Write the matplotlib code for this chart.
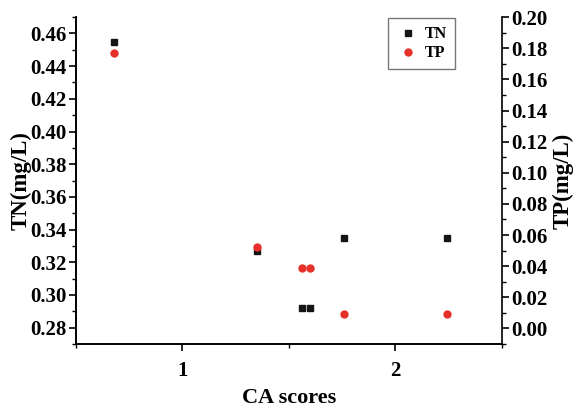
import matplotlib.pyplot as plt
from matplotlib.ticker import MultipleLocator

plt.rcParams['font.family'] = ['Liberation Serif', 'DejaVu Serif']
plt.rcParams['font.weight'] = 'bold'

# CA scores and nutrient concentrations
ca_scores = [0.68, 1.35, 1.56, 1.60, 1.76, 2.24]
tn = [0.455, 0.327, 0.292, 0.292, 0.335, 0.335]
tp = [0.177, 0.052, 0.039, 0.039, 0.009, 0.009]

fig = plt.figure(figsize=(5.77, 4.08), dpi=100)
ax = fig.add_axes([0.1317, 0.157, 0.7383, 0.801])
ax2 = ax.twinx()

h1, = ax.plot(ca_scores, tn, 's', color='#151515', markersize=4.5, label='TN')
h2, = ax2.plot(ca_scores, tp, 'o', color='#e8302a', markersize=5, label='TP')

ax.set_xlim(0.5, 2.5)
ax.set_ylim(0.27, 0.47)
ax2.set_ylim(-0.01, 0.20)

ax.xaxis.set_major_locator(MultipleLocator(1))
ax.xaxis.set_minor_locator(MultipleLocator(0.5))
ax.yaxis.set_minor_locator(MultipleLocator(0.01))
ax2.yaxis.set_minor_locator(MultipleLocator(0.01))
ax.set_yticks([0.28, 0.30, 0.32, 0.34, 0.36, 0.38, 0.40, 0.42, 0.44, 0.46])
ax2.set_yticks([0.00, 0.02, 0.04, 0.06, 0.08, 0.10, 0.12, 0.14, 0.16, 0.18, 0.20])
ax.yaxis.set_major_formatter('{x:.2f}')
ax2.yaxis.set_major_formatter('{x:.2f}')

for a in (ax, ax2):
    a.spines['top'].set_visible(False)
    for s in a.spines.values():
        s.set_linewidth(1.2)
    a.tick_params(which='major', direction='out', length=5, width=1.2, labelsize=15, pad=2)
    a.tick_params(which='minor', direction='out', length=3, width=1.0)
ax.spines['right'].set_visible(False)
ax.tick_params(axis='x', which='major', pad=7)

ax.set_xlabel('CA scores', fontsize=16, fontweight='bold', labelpad=5)
ax.set_ylabel('TN(mg/L)', fontsize=16.5, fontweight='bold', labelpad=-1)
ax2.set_ylabel('TP(mg/L)', fontsize=16.5, fontweight='bold', labelpad=3)

leg = ax.legend([h1, h2], ['TN', 'TP'], loc='upper left', bbox_to_anchor=(0.732, 0.997),
                borderaxespad=0, fontsize=11.5, frameon=True, fancybox=False,
                edgecolor='#555555', handletextpad=0.3, borderpad=0.5,
                labelspacing=0.2, handlelength=1.5)
leg.get_frame().set_linewidth(1.0)

fig.savefig('out.png', dpi=100)
